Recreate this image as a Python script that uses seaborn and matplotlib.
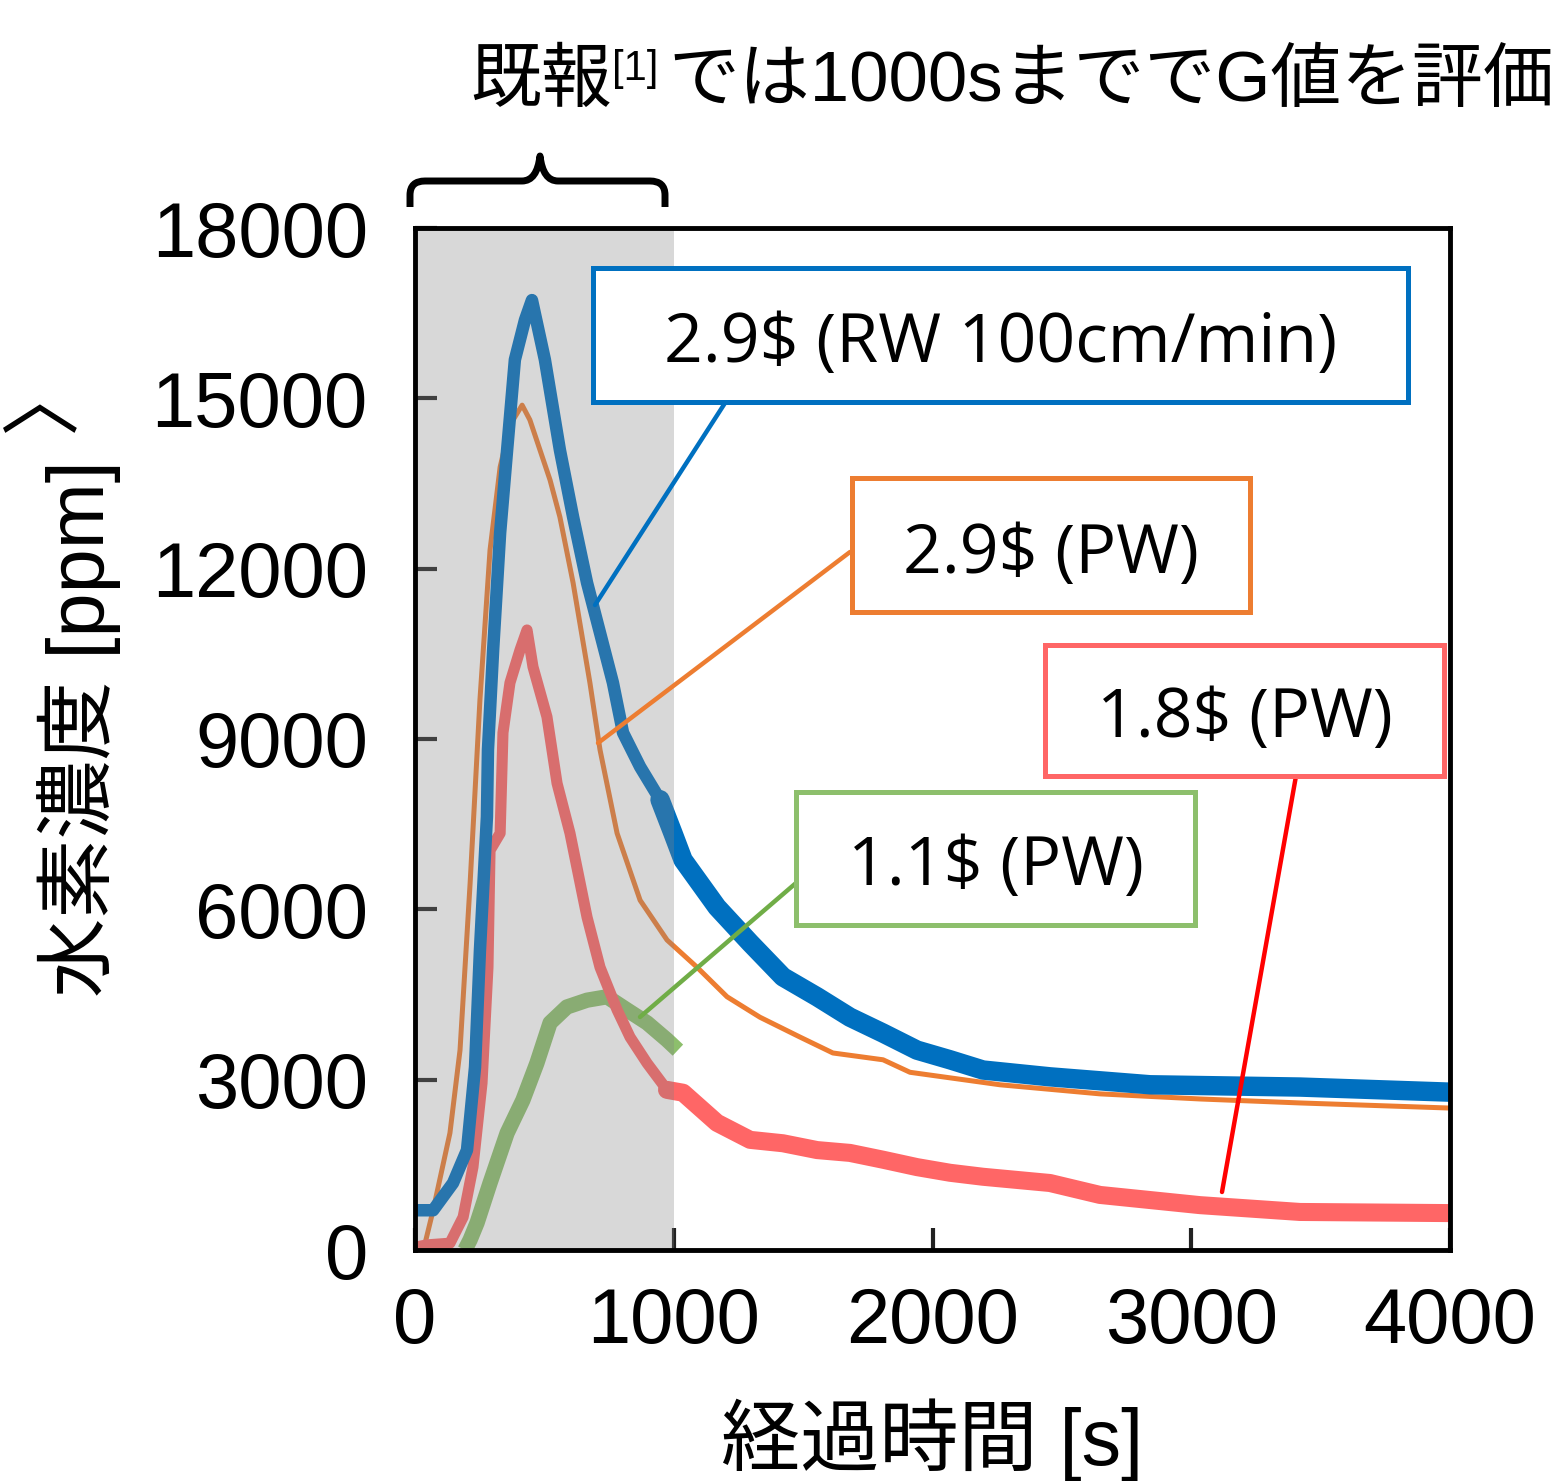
import numpy as np
import pandas as pd
import matplotlib
matplotlib.use("Agg")
import matplotlib.pyplot as plt
import seaborn as sns
from matplotlib.patches import Rectangle, PathPatch
from matplotlib.path import Path

# ------------------------------
# data (time [s], hydrogen [ppm])
# ------------------------------
blue_t = [0, 70, 147, 201, 232, 251, 278, 282, 302, 329, 356, 386, 425, 452, 502, 560, 611, 665,
          715, 765, 804, 870, 947, 997, 1036, 1167, 1295, 1422, 1554, 1681, 1809, 1940, 2068,
          2195, 2454, 2841, 3420, 4000]
blue_v = [700, 700, 1180, 1760, 3220, 5280, 7630, 8810, 10570, 12630, 14090, 15680, 16380, 16730,
          15680, 14090, 12910, 11750, 10870, 9990, 9110, 8510, 7930, 7340, 6870, 6040, 5410, 4810,
          4460, 4100, 3820, 3520, 3350, 3170, 3050, 2910, 2870, 2780]

orange_t = [0, 39, 70, 135, 174, 213, 251, 290, 329, 367, 414, 444, 483, 522, 560, 611, 676, 715,
            781, 870, 974, 1090, 1206, 1333, 1488, 1615, 1809, 1913, 2261, 2647, 3034, 3420, 4000]
orange_v = [0, 120, 700, 2060, 3520, 6460, 9690, 12330, 13790, 14530, 14880, 14620, 14090, 13560,
            12910, 11750, 9990, 8810, 7340, 6160, 5460, 4980, 4460, 4100, 3750, 3470, 3350, 3130,
            2910, 2750, 2660, 2590, 2500]

red_t = [0, 46, 135, 186, 224, 259, 282, 290, 329, 340, 367, 406, 433, 456, 510, 549, 599, 665,
         715, 781, 831, 897, 974, 1036, 1167, 1295, 1422, 1554, 1681, 1809, 1940, 2068, 2195,
         2454, 2647, 3034, 3420, 4000]
red_v = [50, 90, 120, 580, 1460, 2940, 4980, 7040, 7340, 9110, 9990, 10570, 10920, 10270, 9390,
         8220, 7340, 5860, 4980, 4230, 3750, 3290, 2820, 2770, 2240, 1940, 1880, 1760, 1710, 1590,
         1460, 1360, 1290, 1180, 970, 790, 670, 650]

green_t = [193, 213, 240, 290, 356, 417, 471, 522, 587, 665, 742, 819, 897, 974, 1016]
green_v = [0, 180, 480, 1180, 2060, 2640, 3290, 4000, 4280, 4400, 4460, 4230, 4000, 3700, 3520]

x_ticks = [0, 1000, 2000, 3000, 4000]
y_ticks = [0, 3000, 6000, 9000, 12000, 15000, 18000]

labels = ["2.9$ (RW 100cm/min)", "2.9$ (PW)", "1.8$ (PW)", "1.1$ (PW)"]

C_BLUE = "#0070C0"
C_ORANGE = "#ED7D31"
C_RED = "#FF6666"
C_GREEN = "#8DBF6C"

# ------------------------------
# figure
# ------------------------------
sns.set_style("ticks")
plt.rcParams['font.family'] = ['Liberation Sans', 'Noto Sans CJK JP', 'DejaVu Sans']
plt.rcParams['text.color'] = 'black'
plt.rcParams['axes.labelcolor'] = 'black'

W, H = 1563, 1481
fig = plt.figure(figsize=(W / 100, H / 100), dpi=100)
ax = fig.add_axes([415 / W, 1 - 1250 / H, 1035 / W, 1022 / H])

def fx(x):
    return x / W

def fy(y):
    return 1 - y / H

def draw(t, v, c, lw, t_min=None, cap="butt"):
    df = pd.DataFrame({"t": t, "v": v})
    if t_min is not None:
        df = df[df["t"] >= t_min]
    sns.lineplot(data=df, x="t", y="v", ax=ax, color=c, lw=lw, zorder=1.5,
                 solid_joinstyle="round", solid_capstyle=cap)

# noisy traces get wider strokes where the noise band is wider (after ~1000 s)
draw(orange_t, orange_v, C_ORANGE, 3.6)
draw(green_t, green_v, C_GREEN, 11)
draw(red_t, red_v, C_RED, 8)
draw(red_t, red_v, C_RED, 13, t_min=974, cap="round")
draw(blue_t, blue_v, C_BLUE, 9)
draw(blue_t, blue_v, C_BLUE, 14, t_min=947, cap="round")

# gray window: first 1000 s
ax.add_patch(Rectangle((0, 0), 1000, 18000, facecolor=(131 / 255, 131 / 255, 131 / 255),
                       alpha=0.31, edgecolor="none", zorder=2.4))

ax.set_xlim(0, 4000)
ax.set_ylim(0, 18000)
ax.set_xticks(x_ticks)
ax.set_yticks(y_ticks)
ax.set_xticklabels([str(v) for v in x_ticks])
ax.set_yticklabels([str(v) for v in y_ticks])
ax.tick_params(axis="both", direction="in", length=16, width=3, color="#222222",
               labelsize=56, labelcolor="black")
ax.tick_params(axis="y", pad=34)
ax.tick_params(axis="x", pad=26)
for s in ax.spines.values():
    s.set_visible(True)
    s.set_linewidth(3.5)
    s.set_color("black")

ax.set_xlabel("経過時間 [s]", fontsize=57, color="black")
ax.set_ylabel("水素濃度 [ppm]", fontsize=57, color="black")
ax.xaxis.set_label_coords(0.5, -0.145)
ax.yaxis.set_label_coords(-0.284, 0.51)

# clipped fragment at the far left
fig.text(fx(45), fy(392), "〉", rotation=90, fontsize=57, ha="center", va="center",
         family=['Noto Sans CJK JP'])

# ------------------------------
# title + brace
# ------------------------------
fig.text(fx(470), fy(101), "既報", fontsize=51, ha="left", va="baseline")
fig.text(fx(612), fy(80), "[1]", fontsize=30, ha="left", va="baseline")
fig.text(fx(668), fy(101), "では1000sまででG値を評価", fontsize=51, ha="left", va="baseline")

brace_pts = [(410, 207), (410, 195), (410, 181), (425, 181), (522, 181), (537, 181), (540, 156),
             (543, 181), (558, 181), (650, 181), (665, 181), (665, 195), (665, 207)]
codes = [Path.MOVETO, Path.LINETO, Path.CURVE3, Path.CURVE3, Path.LINETO, Path.CURVE3,
         Path.CURVE3, Path.CURVE3, Path.CURVE3, Path.LINETO, Path.CURVE3, Path.CURVE3,
         Path.LINETO]
brace = Path([(fx(x), fy(y)) for x, y in brace_pts], codes)
fig.add_artist(PathPatch(brace, facecolor="none", edgecolor="black", lw=5,
                         transform=fig.transFigure, capstyle="butt", joinstyle="round"))

# ------------------------------
# callout boxes + leaders
# ------------------------------
boxes = [
    (593, 268, 1408, 402, C_BLUE, labels[0], 362, (725, 403), (595, 605), C_BLUE),
    (852, 478, 1250, 612, C_ORANGE, labels[1], 573, (850, 552), (598, 743), C_ORANGE),
    (1045, 645, 1444, 776, C_RED, labels[2], 737, (1296, 776), (1222, 1192), "#FF0000"),
    (796, 792, 1195, 925, C_GREEN, labels[3], 885, (796, 883), (640, 1017), "#70AD47"),
]
for x0, y0, x1, y1, ec, txt, base, p0, p1, lc in boxes:
    fig.add_artist(plt.Line2D([fx(p0[0]), fx(p1[0])], [fy(p0[1]), fy(p1[1])], color=lc,
                              lw=3.2, transform=fig.transFigure, zorder=5))
    fig.add_artist(Rectangle((fx(x0), fy(y1)), fx(x1) - fx(x0), fy(y0) - fy(y1),
                             facecolor="white", edgecolor=ec, lw=3.6,
                             transform=fig.transFigure, zorder=6))
    fig.text(fx((x0 + x1) / 2), fy(base), txt, fontsize=49, ha="center", va="baseline",
             family=["Open Sans", "DejaVu Sans"], color="black", zorder=7)

fig.savefig("out.png", dpi=100)
